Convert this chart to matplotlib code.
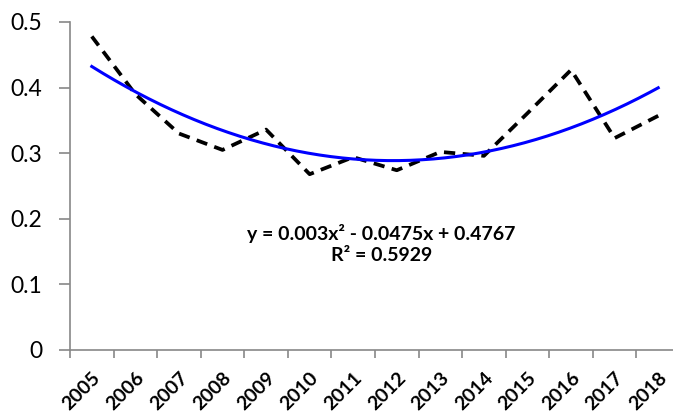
import numpy as np
import matplotlib
matplotlib.use("Agg")
import matplotlib.pyplot as plt

plt.rcParams["font.family"] = ["Lato", "DejaVu Sans"]

years = ["2005", "2006", "2007", "2008", "2009", "2010", "2011",
         "2012", "2013", "2014", "2015", "2016", "2017", "2018"]
values = [0.478, 0.390, 0.330, 0.305, 0.336, 0.268, 0.294,
          0.274, 0.302, 0.296, 0.361, 0.427, 0.323, 0.357]
# trend line coefficients as printed on the chart (x = 1..n)
poly_coef = [0.003, -0.0475, 0.4767]
r_squared = 0.5929
y_ticks = [0, 0.1, 0.2, 0.3, 0.4, 0.5]
y_tick_labels = ["0", "0.1", "0.2", "0.3", "0.4", "0.5"]

W, H = 673, 413
fig = plt.figure(figsize=(W / 100, H / 100), dpi=100)
ax = fig.add_axes([70 / W, (H - 350) / H, 610 / W, 328 / H])

n = len(years)
x = np.arange(1, n + 1)
ax.plot(x, values, color="black", lw=2.7, ls=(0, (3, 2)), zorder=3)

xs = np.linspace(1, n, 200)
ax.plot(xs, np.polyval(poly_coef, xs), color="#0000ff", lw=2.2, zorder=4)

ax.text(7.65, 0.162,
        "y = 0.003x² - 0.0475x + 0.4767\nR² = %.4f" % r_squared,
        ha="center", va="center", fontsize=14, fontweight="bold",
        linespacing=1.3)

ax.set_xlim(0.5, n + 0.5)
ax.set_ylim(0, 0.5)
ax.set_yticks(y_ticks)
ax.set_yticklabels(y_tick_labels, fontsize=16.5)

# Excel style: ticks between categories, labels at the centres
ax.set_xticks(np.arange(0.5, n + 0.6, 1))
ax.set_xticklabels([])
ax.set_xticks(x, minor=True)
ax.set_xticklabels(years, minor=True, rotation=45, ha="right", va="top",
                   rotation_mode="anchor", fontsize=14, fontweight="bold")
ax.tick_params(axis="x", which="minor", length=0, pad=14)
ax.tick_params(axis="x", which="major", length=6, color="#888888", width=1.2)
ax.tick_params(axis="y", length=8, color="#888888", width=1.2, pad=12)

for s in ["top", "right"]:
    ax.spines[s].set_visible(False)
for s in ["left", "bottom"]:
    ax.spines[s].set_color("#888888")
    ax.spines[s].set_linewidth(1.2)

fig.savefig("out.png", dpi=100)
